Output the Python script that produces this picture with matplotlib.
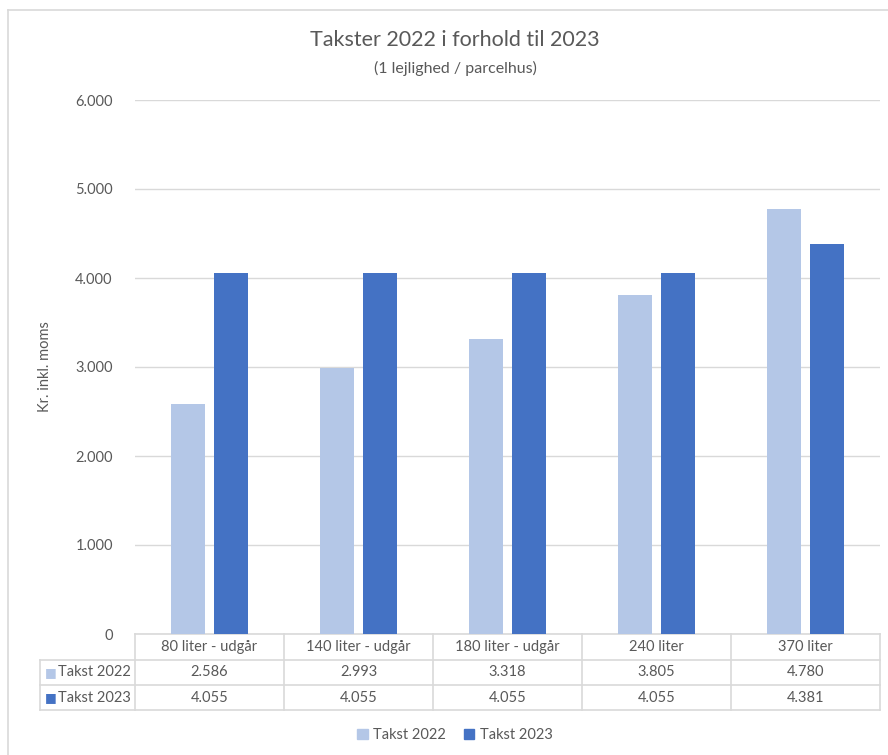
import matplotlib.pyplot as plt
from matplotlib.patches import Patch
from matplotlib.lines import Line2D

categories = ["80 liter - udgår", "140 liter - udgår", "180 liter - udgår", "240 liter", "370 liter"]
series_names = ["Takst 2022", "Takst 2023"]
takst_2022 = [2586, 2993, 3318, 3805, 4780]
takst_2023 = [4055, 4055, 4055, 4055, 4381]
yticks = [0, 1000, 2000, 3000, 4000, 5000, 6000]

LIGHT = "#B4C7E7"
DARK = "#4472C4"
GRID = "#D9D9D9"
TXT = "#595959"
plt.rcParams['font.family'] = ['Lato', 'DejaVu Sans']

W, H = 888, 755
fig = plt.figure(figsize=(W / 100, H / 100), dpi=100)

# plot area in pixels
X0, X1, Y0, Y1 = 135, 880, 100, 634
ax = fig.add_axes([X0 / W, (H - Y1) / H, (X1 - X0) / W, (Y1 - Y0) / H])

def fmt(v):
    return f"{v:,}".replace(",", ".")

n = len(categories)
xs = list(range(n))
bw = 0.228
off = 0.146
ax.bar([x - off for x in xs], takst_2022, width=bw, color=LIGHT, zorder=3)
ax.bar([x + off for x in xs], takst_2023, width=bw, color=DARK, zorder=3)

ax.set_xlim(-0.5, n - 0.5)
ax.set_ylim(0, 6000)
ax.set_yticks(yticks)
ax.set_yticklabels([fmt(v) for v in yticks], color=TXT, fontsize=10.5)
ax.tick_params(axis='y', length=0, pad=16)
ax.set_xticks([])
ax.grid(axis='y', color=GRID, linewidth=1, zorder=0)
for s in ax.spines.values():
    s.set_visible(False)
fig.text(45 / W, (H - 367) / H, "Kr. inkl. moms", rotation=90, ha='center', va='center',
         color=TXT, fontsize=10.5)

# data table under the plot (x in data units, y in pixels -> axes fraction)
def yf(py):
    return (Y1 - py) / (Y1 - Y0)

tr = ax.get_xaxis_transform()
left = -0.5 - (X0 - 40) / ((X1 - X0) / n)
rows = [634, 660, 685, 710]
line_kw = dict(color=GRID, linewidth=1.2, transform=tr, clip_on=False)

ax.add_line(Line2D([-0.5, n - 0.5], [yf(rows[0])] * 2, **line_kw))
for r in rows[1:]:
    ax.add_line(Line2D([left, n - 0.5], [yf(r)] * 2, **line_kw))
for i in range(n + 1):
    ax.add_line(Line2D([i - 0.5] * 2, [yf(rows[0]), yf(rows[-1])], **line_kw))
ax.add_line(Line2D([left] * 2, [yf(rows[1]), yf(rows[-1])], **line_kw))

for i, c in enumerate(categories):
    ax.text(i, yf((rows[0] + rows[1]) / 2), c, transform=tr, ha='center', va='center',
            color=TXT, fontsize=10.5)
    ax.text(i, yf((rows[1] + rows[2]) / 2), fmt(takst_2022[i]), transform=tr,
            ha='center', va='center', color=TXT, fontsize=10.5)
    ax.text(i, yf((rows[2] + rows[3]) / 2), fmt(takst_2023[i]), transform=tr,
            ha='center', va='center', color=TXT, fontsize=10.5)

for j, (name, col) in enumerate(zip(series_names, [LIGHT, DARK])):
    yc = (rows[j + 1] + rows[j + 2]) / 2
    fig.text(45 / W, (H - yc) / H, "\u25a0", color=col, fontsize=9, va='center', ha='left')
    fig.text(58 / W, (H - yc) / H, name, color=TXT, fontsize=10.5, va='center', ha='left')

# legend
handles = [Patch(color=LIGHT, label=series_names[0]), Patch(color=DARK, label=series_names[1])]
fig.legend(handles=handles, loc='center', bbox_to_anchor=(455 / W, (H - 735) / H), ncol=2,
           frameon=False, fontsize=10.5, handlelength=0.7, handleheight=0.7,
           handletextpad=0.4, columnspacing=1.2, labelcolor=TXT)

# titles
fig.text(455 / W, (H - 40) / H, "Takster 2022 i forhold til 2023", ha='center', va='center',
         color=TXT, fontsize=15.5)
fig.text(455 / W, (H - 68) / H, "(1 lejlighed / parcelhus)", ha='center', va='center',
         color=TXT, fontsize=11.5)

# chart border (left and top visible)
fig.add_artist(Line2D([8 / W, 8 / W], [0, 1 - 10 / H], color=GRID, linewidth=1.2,
                      transform=fig.transFigure))
fig.add_artist(Line2D([8 / W, 1], [1 - 10 / H, 1 - 10 / H], color=GRID, linewidth=1.2,
                      transform=fig.transFigure))

fig.savefig("out.png", dpi=100)
